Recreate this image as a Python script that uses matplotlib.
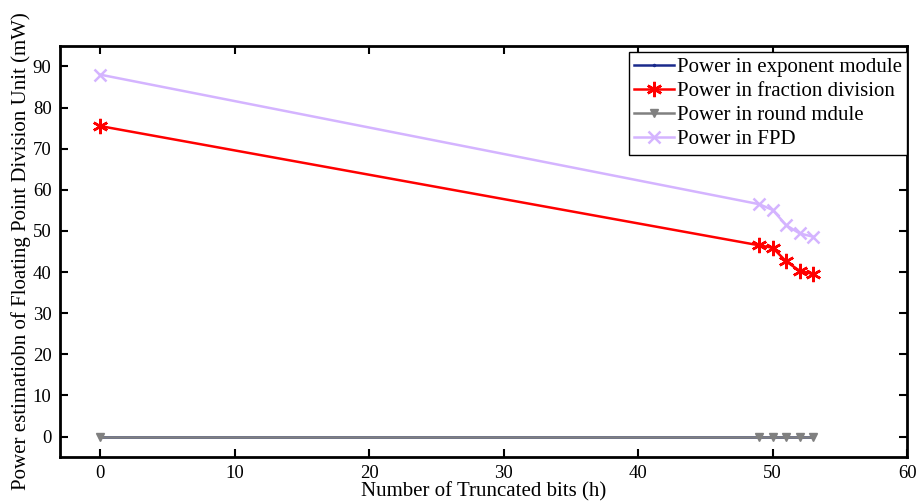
import matplotlib
matplotlib.use("Agg")
from matplotlib import pyplot as plt

truncated_bits = [0, 49, 50, 51, 52, 53]
power_exponent = [0.0, 0.0, 0.0, 0.0, 0.0, 0.0]
power_fraction = [75.5, 46.5, 45.9, 42.6, 40.3, 39.5]
power_round = [0.0, 0.0, 0.0, 0.0, 0.0, 0.0]
power_fpd = [88.0, 56.5, 55.1, 51.4, 49.4, 48.6]

x_ticks = [0, 10, 20, 30, 40, 50, 60]
y_ticks = [0, 10, 20, 30, 40, 50, 60, 70, 80, 90]


def main():
    plt.rcParams['font.family'] = ['Liberation Serif', 'DejaVu Serif']
    plt.rcParams['font.size'] = 15

    fig = plt.figure(figsize=(9.21, 5.04), dpi=100)
    ax = fig.add_axes([0.065, 0.093, 0.92, 0.816])

    asterisk = (6, 2, 0)
    ax.plot(truncated_bits, power_exponent, color='#1a2a8c', marker='.', markersize=3,
            linewidth=1.8, label="Power in exponent module", zorder=2)
    ax.plot(truncated_bits, power_fraction, color='#ff0000', marker=asterisk, markersize=11,
            markeredgewidth=1.8, linewidth=1.8, label="Power in fraction division")
    ax.plot(truncated_bits, power_round, color='#808080', marker='v', markersize=6,
            linewidth=1.8, label="Power in round mdule", zorder=2.5)
    ax.plot(truncated_bits, power_fpd, color='#d4b4ff', marker='x', markersize=8,
            markeredgewidth=1.8, linewidth=1.8, label="Power in FPD")

    ax.set_xlim(-3, 60)
    ax.set_ylim(-5, 95)
    ax.set_xticks(x_ticks)
    ax.set_yticks(y_ticks)
    ax.tick_params(direction='in', length=6, width=1.5, top=True, right=True,
                   labelsize=13.5, pad=6)
    for spine in ax.spines.values():
        spine.set_linewidth(2)

    ax.set_xlabel("Number of Truncated bits (h)", labelpad=0)
    ax.set_ylabel("Power estimatiobn of Floating Point Division Unit (mW)", labelpad=1)

    leg = ax.legend(loc='upper right', bbox_to_anchor=(1.0, 0.985), borderaxespad=0,
                    fancybox=False, edgecolor='black', framealpha=1,
                    handlelength=1.9, handletextpad=0.15, labelspacing=0.22,
                    borderpad=0.25, fontsize=15)
    leg.get_frame().set_linewidth(1.0)

    fig.savefig("out.png", dpi=100)


if __name__ == "__main__":
    main()
